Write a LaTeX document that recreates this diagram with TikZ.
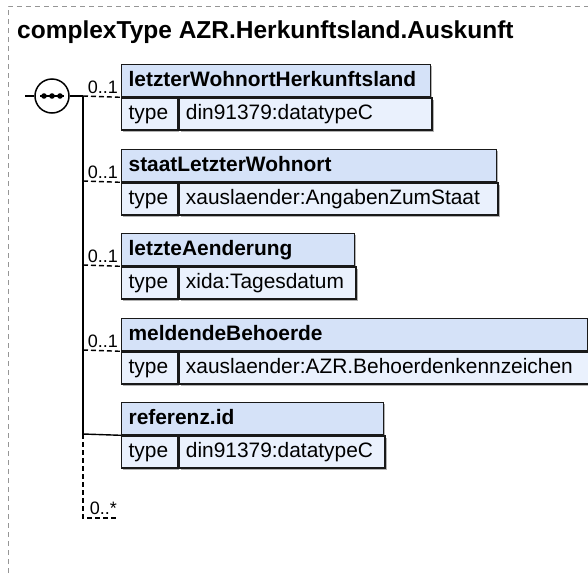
\documentclass[tikz,border=0pt]{standalone}
\usepackage{fontspec}
\setmainfont{Liberation Sans}
\usetikzlibrary{shadows}
\definecolor{hdrfill}{RGB}{213,226,248}
\definecolor{bodyfill}{RGB}{234,241,253}
\definecolor{framegray}{RGB}{150,150,150}
\tikzset{
  boxline/.style={draw=black!90, line width=1.3pt},
  boxshadow/.style={drop shadow={shadow xshift=1.6pt, shadow yshift=-1.6pt, opacity=0.3, fill=black}},
  hdr/.style={boxline, boxshadow, fill=hdrfill, anchor=north west, minimum height=32pt,
    inner xsep=7pt, inner ysep=0pt, text height=15pt, text depth=4pt, align=left,
    font=\fontsize{20.9}{24}\selectfont\bfseries},
  tcell/.style={boxline, boxshadow, fill=bodyfill, anchor=north west, minimum height=32pt,
    inner xsep=7pt, inner ysep=0pt, text height=15pt, text depth=4pt, align=left, text width=42pt,
    font=\fontsize{20.9}{24}\selectfont},
  vcell/.style={boxline, boxshadow, fill=bodyfill, anchor=north west, minimum height=32pt,
    inner xsep=7pt, inner ysep=0pt, text height=15pt, text depth=4pt, align=left,
    font=\fontsize{20.9}{24}\selectfont},
  cardlabel/.style={anchor=base east, inner sep=0pt, font=\fontsize{18}{21}\selectfont},
  conn/.style={draw=black, line width=1.4pt},
  optconn/.style={conn, dash pattern=on 5pt off 3pt},
  framestyle/.style={draw=framegray, line width=0.9pt, dash pattern=on 5pt off 4pt},
}
\newcommand\xsdelem[5]{% name, top, width, title, type
  \pgfmathsetmacro\hdrw{#3-14}%
  \pgfmathsetmacro\valw{#3-56-14}%
  \node[hdr, text width=\hdrw pt] (#1h) at (121,#2) {#4};
  \node[tcell] (#1t) at (#1h.south west) {type};
  \node[vcell, text width=\valw pt] (#1v) at (#1t.north east) {#5};
  \coordinate (#1j) at (83,#2+32);
}
\begin{document}
\begin{tikzpicture}[x=1pt,y=-1pt]
\useasboundingbox (0,0) rectangle (588,573);
% frame
\coordinate (fbl) at (8,573);
\coordinate (ftl) at (8,6);
\coordinate (ftr) at (588,6);
\draw[framestyle] (fbl) -- (ftl) -- (ftr);
\node[anchor=base west, inner sep=0pt, font=\fontsize{24.5}{28}\selectfont\bfseries] (title) at (17,38) {complexType AZR.Herkunftsland.Auskunft};

% elements
\xsdelem{a}{64}{309}{letzterWohnortHerkunftsland}{din91379:datatypeC}
\xsdelem{b}{149}{375}{staatLetzterWohnort}{xauslaender:AngabenZumStaat}
\xsdelem{c}{233}{233}{letzteAenderung}{xida:Tagesdatum}
\xsdelem{d}{318}{466}{meldendeBehoerde}{xauslaender:AZR.Behoerdenkennzeichen}
\xsdelem{e}{402}{262}{referenz.id}{din91379:datatypeC}

% sequence compositor
\coordinate (seqin) at (25,96);
\node[circle, draw=black, line width=1.5pt, fill=white, minimum size=34pt, inner sep=0pt] (seq) at (52,96) {};
\draw[conn] (seqin) -- (seq.west);
\draw[conn] (seq.east) -- (aj);
\draw[line width=1.2pt] ([xshift=-12pt]seq.center) -- ([xshift=12pt]seq.center);
\fill ([xshift=-8pt]seq.center) circle (2.8pt);
\fill (seq.center) circle (2.8pt);
\fill ([xshift=8pt]seq.center) circle (2.8pt);

% vertical spine
\draw[conn] (aj) -- (ej);
\coordinate (endj) at (83,518);
\coordinate (endr) at (118,518);
\draw[optconn] (ej) -- (endj) -- (endr);
\node[cardlabel] (ecard) at (117,514) {0..*};

% connectors
\draw[optconn] (aj) -- (ah.south west);
\draw[optconn] (bj) -- (bh.south west);
\draw[optconn] (cj) -- (ch.south west);
\draw[optconn] (dj) -- (dh.south west);
\draw[conn] (ej) -- (eh.south west);

\node[cardlabel] (acard) at (118,93) {0..1};
\node[cardlabel] (bcard) at (118,178) {0..1};
\node[cardlabel] (ccard) at (118,262) {0..1};
\node[cardlabel] (dcard) at (118,347) {0..1};
\end{tikzpicture}
\end{document}
